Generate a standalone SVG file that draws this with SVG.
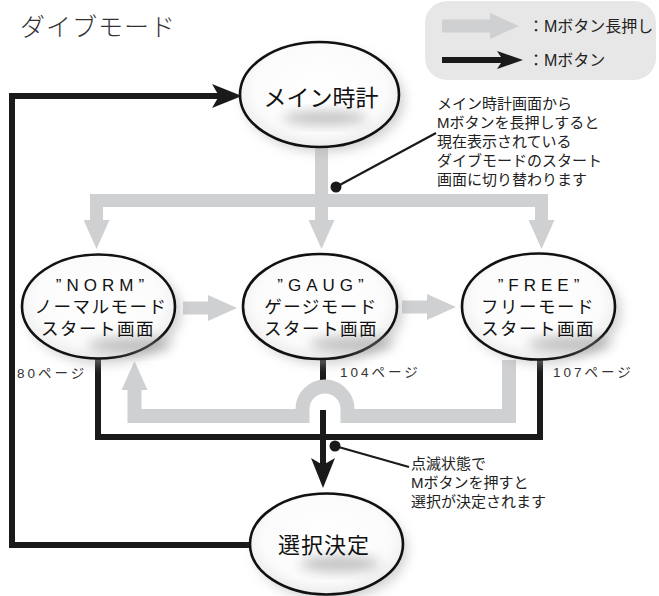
<svg xmlns="http://www.w3.org/2000/svg" width="659" height="596" viewBox="0 0 659 596">
<style>
text{font-family:"Liberation Sans","Noto Sans CJK JP",sans-serif}
.title{font-size:25px;fill:#333;letter-spacing:1px;font-weight:300}
.ann{font-size:15px;fill:#222}
.leg{font-size:16px;fill:#222}
.lbl{font-size:17.5px;fill:#111;letter-spacing:1.5px;text-anchor:middle}
.q{font-size:17px;fill:#111;letter-spacing:5px;text-anchor:middle}
.big{font-size:23px;fill:#111;text-anchor:middle}
.pg{font-size:13.5px;fill:#333;letter-spacing:3px}
.node{fill:url(#ng);stroke:#111;stroke-width:2.6}
.halo{fill:#aaa;opacity:.55;filter:url(#soft)}
.smudge{fill:#8a8a8a;opacity:.5;filter:url(#soft)}
.gray{fill:none;stroke:#cfd0d2;stroke-linejoin:miter}
.blk{fill:none;stroke:#1a1a1a;stroke-width:6;stroke-linejoin:miter}
.lead{stroke:#1a1a1a;stroke-width:2.2}
</style>
<defs>
<radialGradient id="ng" cx="50%" cy="45%" r="60%">
<stop offset="0" stop-color="#ffffff"/>
<stop offset="0.7" stop-color="#fbfbfb"/>
<stop offset="1" stop-color="#e6e6e6"/>
</radialGradient>
<filter id="soft" x="-50%" y="-50%" width="200%" height="200%"><feGaussianBlur stdDeviation="6"/></filter>
<marker id="gh" markerUnits="userSpaceOnUse" viewBox="0 0 29 26" markerWidth="29" markerHeight="26" refX="0" refY="13" orient="auto"><path d="M0,0 L29,13 L0,26 Z" fill="#cfd0d2"/></marker>
<marker id="bh" markerUnits="userSpaceOnUse" viewBox="0 0 30 24" markerWidth="30" markerHeight="24" refX="7" refY="12" orient="auto"><path d="M0,0 L30,12 L0,24 L7,12 Z" fill="#1a1a1a"/></marker>
<marker id="bhs" markerUnits="userSpaceOnUse" viewBox="0 0 26 18" markerWidth="26" markerHeight="18" refX="6" refY="9" orient="auto"><path d="M0,0 L26,9 L0,18 L6,9 Z" fill="#1a1a1a"/></marker>
</defs>

<text class="title" x="20" y="36">ダイブモード</text>

<g id="legend">
<rect x="425" y="1" width="231" height="79" rx="22" fill="#e7e7e7"/>
<path class="gray" d="M442,26 H490" stroke-width="13" marker-end="url(#gh)"/>
<path class="blk" d="M442,60 H503" stroke-width="5" marker-end="url(#bhs)"/>
<text class="leg" x="528" y="32">：Mボタン長押し</text>
<text class="leg" x="528" y="66">：Mボタン</text>
</g>

<g id="connectors">
<path class="gray" d="M321.5,147 V220" stroke-width="13" marker-end="url(#gh)"/>
<path class="gray" d="M90,200.5 H548" stroke-width="13"/>
<path class="gray" d="M96.5,200 V220" stroke-width="13" marker-end="url(#gh)"/>
<path class="gray" d="M541.5,200 V220" stroke-width="13" marker-end="url(#gh)"/>
<path class="gray" d="M183,308 H208" stroke-width="13" marker-end="url(#gh)"/>
<path class="gray" d="M402,307 H427" stroke-width="13" marker-end="url(#gh)"/>
<path class="blk" d="M323,358 V386"/>
<path class="gray" d="M509,360 V416 H347.5 V409 A22.5,22.5 0 0 0 302.5,409 V416 H134.5 V390" stroke-width="14" marker-end="url(#gh)"/>
<path class="blk" d="M98,357 V437 H540 V359"/>
<path class="blk" d="M323,410 V465" marker-end="url(#bh)"/>
<path class="blk" d="M252,545 H12 V96 H219" marker-end="url(#bh)"/>
<circle cx="336" cy="187" r="5.5" fill="#1a1a1a"/>
<line class="lead" x1="336" y1="187" x2="436" y2="133"/>
<circle cx="335" cy="446" r="5.5" fill="#1a1a1a"/>
<line class="lead" x1="335" y1="446" x2="409" y2="467"/>
</g>

<g id="main">
<ellipse class="halo" cx="324" cy="100" rx="80" ry="52"/>
<ellipse class="node" cx="319.5" cy="94.5" rx="79.5" ry="52.5"/>
<ellipse class="smudge" cx="325" cy="118" rx="42" ry="7"/>
<text class="big" x="321" y="106">メイン時計</text>
</g>

<g id="norm">
<ellipse class="halo" cx="104" cy="312" rx="77" ry="52"/>
<ellipse class="node" cx="98.5" cy="306.5" rx="76.5" ry="52"/>
<ellipse class="smudge" cx="130" cy="345" rx="42" ry="8"/>
<text class="q" x="102.5" y="291">”NORM”</text>
<text class="lbl" x="101" y="313">ノーマルモード</text>
<text class="lbl" x="98" y="335">スタート画面</text>
</g>

<g id="gaug">
<ellipse class="halo" cx="326" cy="312" rx="77" ry="52"/>
<ellipse class="node" cx="320" cy="306.5" rx="77" ry="52.5"/>
<ellipse class="smudge" cx="352" cy="344" rx="42" ry="8"/>
<text class="q" x="323" y="291">”GAUG”</text>
<text class="lbl" x="321" y="313">ゲージモード</text>
<text class="lbl" x="321" y="335">スタート画面</text>
</g>

<g id="free">
<ellipse class="halo" cx="544" cy="312" rx="77" ry="52"/>
<ellipse class="node" cx="538.5" cy="306.5" rx="76.5" ry="53"/>
<ellipse class="smudge" cx="570" cy="344" rx="42" ry="8"/>
<text class="q" x="541" y="291">”FREE”</text>
<text class="lbl" x="538" y="313">フリーモード</text>
<text class="lbl" x="538" y="335">スタート画面</text>
</g>

<g id="select">
<ellipse class="halo" cx="331" cy="550" rx="76" ry="50"/>
<ellipse class="node" cx="326.5" cy="544" rx="76.5" ry="50.5"/>
<ellipse class="smudge" cx="340" cy="564" rx="40" ry="8"/>
<text class="big" x="324" y="553" style="font-size:22px;letter-spacing:1px">選択決定</text>
</g>

<g id="labels">
<text class="pg" x="17" y="378">80ページ</text>
<text class="pg" x="340" y="377">104ページ</text>
<text class="pg" x="553" y="377">107ページ</text>
<text class="ann" x="437" y="109">メイン時計画面から</text>
<text class="ann" x="437" y="128">Mボタンを長押しすると</text>
<text class="ann" x="437" y="147">現在表示されている</text>
<text class="ann" x="437" y="166">ダイブモードのスタート</text>
<text class="ann" x="437" y="185">画面に切り替わります</text>
<text class="ann" x="411" y="469">点滅状態で</text>
<text class="ann" x="411" y="488">Mボタンを押すと</text>
<text class="ann" x="411" y="507">選択が決定されます</text>
</g>
</svg>
